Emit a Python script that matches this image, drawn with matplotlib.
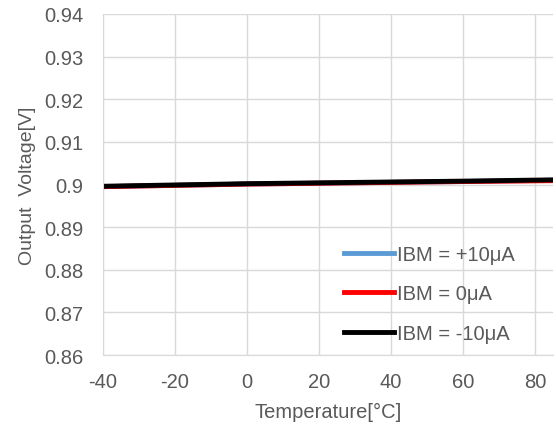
import matplotlib
matplotlib.use("Agg")
import matplotlib.pyplot as plt

plt.rcParams['font.family'] = ['Liberation Sans', 'DejaVu Sans']
plt.rcParams['axes.unicode_minus'] = False

# data
temps = [-40, -20, 0, 20, 40, 60, 85]
v_plus10 = [0.8995, 0.8998, 0.9001, 0.9003, 0.9005, 0.9007, 0.9010]
v_zero = [0.8995, 0.8998, 0.9001, 0.9003, 0.9005, 0.9007, 0.9009]
v_minus10 = [0.8996, 0.8999, 0.9002, 0.9004, 0.9006, 0.9008, 0.9011]
labels = ['IBM = +10μA', 'IBM = 0μA', 'IBM = -10μA']

grey = '#595959'
fig = plt.figure(figsize=(5.56, 4.27), dpi=100)
ax = fig.add_axes([0.185, 0.166, 0.81, 0.799])

ax.plot(temps, v_plus10, color='#5b9bd5', lw=3.5, label=labels[0])
ax.plot(temps, v_zero, color='#ff0000', lw=3.5, label=labels[1])
ax.plot(temps, v_minus10, color='#000000', lw=3.5, label=labels[2])

ax.set_xlim(-40, 85)
ax.set_ylim(0.86, 0.94)
ax.set_xticks([-40, -20, 0, 20, 40, 60, 80])
ax.set_yticks([0.86, 0.87, 0.88, 0.89, 0.9, 0.91, 0.92, 0.93, 0.94])
ax.set_yticklabels(['0.86', '0.87', '0.88', '0.89', '0.9', '0.91', '0.92', '0.93', '0.94'])
ax.grid(True, color='#d9d9d9', lw=1)
ax.set_axisbelow(True)
for s in ['top', 'right']:
    ax.spines[s].set_visible(False)
for s in ['left', 'bottom']:
    ax.spines[s].set_color('#d9d9d9')
ax.tick_params(length=0, labelsize=14.5, colors=grey)
ax.tick_params(axis='x', pad=12)
ax.tick_params(axis='y', pad=14)

ax.set_xlabel('Temperature[°C]', fontsize=14.5, color=grey, labelpad=8)
ax.set_ylabel('Output  Voltage[V]', fontsize=14, color=grey, labelpad=6)

leg = ax.legend(loc='lower right', bbox_to_anchor=(0.915, 0.035), frameon=False,
                fontsize=14.5, handlelength=2.5, handletextpad=0.15,
                labelspacing=1.03, borderpad=0, borderaxespad=0)
for t in leg.get_texts():
    t.set_color(grey)

fig.savefig('out.png', dpi=100)
